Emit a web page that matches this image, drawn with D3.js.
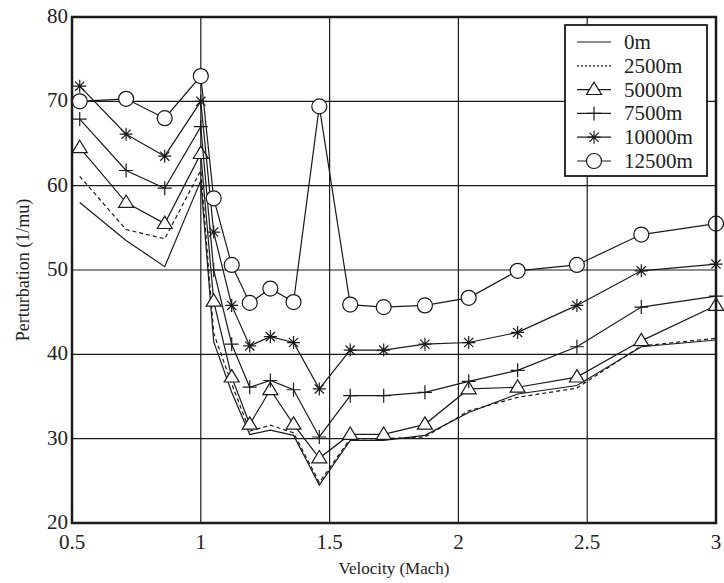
<!DOCTYPE html>
<html>
<head>
<meta charset="utf-8">
<script src="https://cdn.jsdelivr.net/npm/d3@7"></script>
<style>
  body { margin: 0; background: #fff; }
  text { font-family: Liberation Serif, Tinos, Times New Roman, DejaVu Serif, serif; }
</style>
</head>
<body>
<svg id="chart" width="724" height="583"></svg>
<script>
"use strict";

// velocity samples (Mach)
const velocity = [0.53, 0.71, 0.86, 1.0, 1.05, 1.12, 1.19, 1.27, 1.36, 1.46, 1.58, 1.71, 1.87, 2.04, 2.23, 2.46, 2.71, 3.0];

const alt0 = [58.0, 53.5, 50.4, 60.6, 41.5, 35.5, 30.5, 31.0, 30.4, 24.5, 29.8, 29.8, 30.4, 33.1, 35.3, 36.3, 40.9, 41.7];
const alt2500 = [61.1, 54.8, 53.7, 61.8, 42.5, 36.5, 30.9, 31.6, 30.7, 24.8, 30.0, 30.0, 30.2, 33.3, 34.9, 36.0, 41.0, 41.9];
const alt5000 = [64.5, 58.0, 55.5, 63.8, 46.3, 37.3, 31.7, 35.8, 31.7, 27.7, 30.5, 30.5, 31.7, 35.9, 36.1, 37.3, 41.6, 45.8];
const alt7500 = [67.9, 61.8, 59.7, 67.0, 50.0, 41.2, 36.1, 36.9, 35.8, 30.2, 35.1, 35.1, 35.5, 36.8, 38.1, 40.9, 45.6, 46.9];
const alt10000 = [71.8, 66.1, 63.5, 70.0, 54.5, 45.8, 41.0, 42.1, 41.4, 35.9, 40.5, 40.5, 41.2, 41.4, 42.6, 45.8, 49.9, 50.7];
const alt12500 = [70.0, 70.3, 68.0, 73.0, 58.5, 50.6, 46.1, 47.8, 46.2, 69.4, 45.9, 45.6, 45.8, 46.7, 49.9, 50.6, 54.2, 55.5];

const seriesNames = ["0m", "2500m", "5000m", "7500m", "10000m", "12500m"];
const seriesValues = [alt0, alt2500, alt5000, alt7500, alt10000, alt12500];
const markerKinds = ["none", "none", "triangle", "plus", "star", "circle"];

const xTicks = [0.5, 1, 1.5, 2, 2.5, 3];
const yTicks = [20, 30, 40, 50, 60, 70, 80];

const svg = d3.select("#chart");
const margin = { top: 17, right: 8, bottom: 60, left: 72 };
const W = 724, H = 583;
const ink = "#1a1a1a";

const x = d3.scaleLinear().domain([0.5, 3]).range([margin.left, W - margin.right]);
const y = d3.scaleLinear().domain([20, 80]).range([H - margin.bottom, margin.top]);

// grid
svg.append("g").selectAll("line").data(xTicks.slice(1, -1)).enter()
    .append("line")
    .attr("x1", d => x(d)).attr("x2", d => x(d))
    .attr("y1", y(20)).attr("y2", y(80))
    .style("stroke", ink).style("stroke-width", 1.2);
svg.append("g").selectAll("line").data(yTicks.slice(1, -1)).enter()
    .append("line")
    .attr("x1", x(0.5)).attr("x2", x(3))
    .attr("y1", d => y(d)).attr("y2", d => y(d))
    .style("stroke", ink).style("stroke-width", 1.2);

// tick labels
svg.append("g").selectAll("text").data(xTicks).enter()
    .append("text")
    .attr("x", d => x(d)).attr("y", y(20) + 26)
    .attr("text-anchor", "middle")
    .style("font-size", "21px").style("fill", "#222")
    .text(d => d);
svg.append("g").selectAll("text").data(yTicks).enter()
    .append("text")
    .attr("x", x(0.5) - 4).attr("y", d => y(d) + 6)
    .attr("text-anchor", "end")
    .style("font-size", "21px").style("fill", "#222")
    .text(d => d);

// axis titles
svg.append("text")
    .attr("x", (x(0.5) + x(3)) / 2).attr("y", H - 9)
    .attr("text-anchor", "middle")
    .style("font-size", "17px").style("fill", "#222")
    .text("Velocity (Mach)");
svg.append("text")
    .attr("transform", "translate(29," + ((y(20) + y(80)) / 2) + ") rotate(-90)")
    .attr("text-anchor", "middle")
    .style("font-size", "18px").style("fill", "#222")
    .text("Perturbation (1/mu)");

// marker path builder
const markerPath = (kind, cx, cy) => {
    if (kind === "triangle") {
        const s = 7.5;
        return "M" + cx + "," + (cy - s) + "L" + (cx + s) + "," + (cy + s * 0.65)
            + "L" + (cx - s) + "," + (cy + s * 0.65) + "Z";
    }
    if (kind === "plus") {
        const s = 7;
        return "M" + (cx - s) + "," + cy + "H" + (cx + s) + "M" + cx + "," + (cy - s) + "V" + (cy + s);
    }
    if (kind === "star") {
        const s = 6.5, d = 4.6;
        return "M" + (cx - s) + "," + cy + "H" + (cx + s)
            + "M" + cx + "," + (cy - s) + "V" + (cy + s)
            + "M" + (cx - d) + "," + (cy - d) + "L" + (cx + d) + "," + (cy + d)
            + "M" + (cx - d) + "," + (cy + d) + "L" + (cx + d) + "," + (cy - d);
    }
    return "";
};

const line = d3.line().x(d => x(d[0])).y(d => y(d[1]));

seriesValues.forEach((vals, i) => {
    const pts = velocity.map((v, j) => [v, vals[j]]);
    svg.append("path")
        .datum(pts)
        .attr("d", line)
        .style("fill", "none")
        .style("stroke", ink)
        .style("stroke-width", 1.2)
        .style("stroke-dasharray", i === 1 ? "4,3" : null);
    const kind = markerKinds[i];
    if (kind === "circle") {
        svg.append("g").selectAll("circle").data(pts).enter()
            .append("circle")
            .attr("cx", d => x(d[0])).attr("cy", d => y(d[1])).attr("r", 7.5)
            .style("fill", "#fff").style("stroke", ink).style("stroke-width", 1.2);
    } else if (kind !== "none") {
        svg.append("g").selectAll("path").data(pts).enter()
            .append("path")
            .attr("d", d => markerPath(kind, x(d[0]), y(d[1])))
            .style("fill", kind === "triangle" ? "#fff" : "none")
            .style("stroke", ink).style("stroke-width", 1.2);
    }
});

// frame
svg.append("rect")
    .attr("x", x(0.5)).attr("y", y(80))
    .attr("width", x(3) - x(0.5)).attr("height", y(20) - y(80))
    .style("fill", "none").style("stroke", ink).style("stroke-width", 2.5);

// legend
const legend = svg.append("g").attr("transform", "translate(565,25)");
legend.append("rect")
    .attr("width", 142).attr("height", 151)
    .style("fill", "#fff").style("stroke", ink).style("stroke-width", 1.8);
const rowY = i => 17 + i * 23.8;
seriesNames.forEach((name, i) => {
    const ly = rowY(i);
    legend.append("line")
        .attr("x1", 12).attr("x2", 46).attr("y1", ly).attr("y2", ly)
        .style("stroke", ink).style("stroke-width", 1.2)
        .style("stroke-dasharray", i === 1 ? "2,2" : null);
    const kind = markerKinds[i];
    if (kind === "circle") {
        legend.append("circle").attr("cx", 29).attr("cy", ly).attr("r", 7.5)
            .style("fill", "#fff").style("stroke", ink).style("stroke-width", 1.2);
    } else if (kind !== "none") {
        legend.append("path").attr("d", markerPath(kind, 29, ly))
            .style("fill", kind === "triangle" ? "#fff" : "none")
            .style("stroke", ink).style("stroke-width", 1.2);
    }
    legend.append("text")
        .attr("x", 59).attr("y", ly + 7)
        .style("font-size", "21px").style("fill", "#222")
        .text(name);
});
</script>
</body>
</html>
